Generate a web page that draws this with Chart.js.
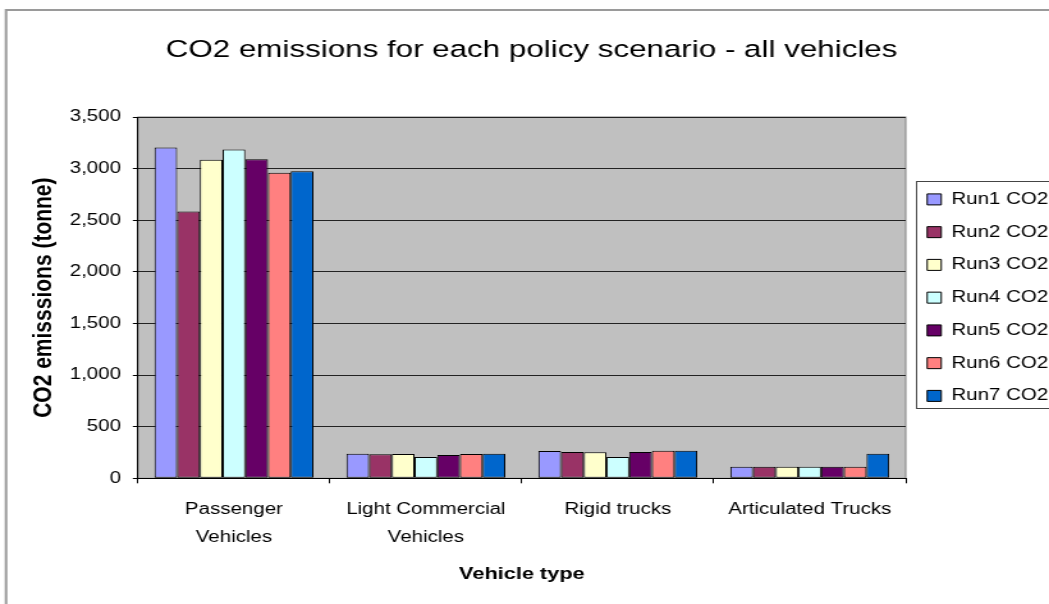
<!DOCTYPE html>
<html>
<head>
<meta charset="utf-8">
<title>CO2 emissions for each policy scenario - all vehicles</title>
<script src="https://cdn.jsdelivr.net/npm/chart.js@4/dist/chart.umd.min.js"></script>
<style>
  html, body { margin: 0; padding: 0; background: #ffffff; overflow: hidden; }
  /* The chart is laid out at 820px and widened to the full 1049px page. */
  #wrap {
    position: absolute; left: 0; top: 0;
    width: 820px; height: 604px;
    transform-origin: 0 0;
    transform: scaleX(1.27927);
  }
</style>
</head>
<body>
<div id="wrap"><canvas id="chart" width="820" height="604"></canvas></div>
<script>
// Vehicle categories (multi-line labels)
const categories = [
  ['Passenger', 'Vehicles'],
  ['Light Commercial', 'Vehicles'],
  'Rigid trucks',
  'Articulated Trucks'
];

// Series names
const seriesNames = ['Run1 CO2', 'Run2 CO2', 'Run3 CO2', 'Run4 CO2', 'Run5 CO2', 'Run6 CO2', 'Run7 CO2'];

// CO2 emissions (tonne) per run, in category order
const run1 = [3205, 239, 265, 113];
const run2 = [2585, 233, 255, 113];
const run3 = [3085, 236, 252, 113];
const run4 = [3185, 207, 207, 113];
const run5 = [3090, 226, 255, 113];
const run6 = [2960, 236, 268, 113];
const run7 = [2975, 239, 268, 239];

// Y axis tick values and their labels
const yTickValues = [0, 500, 1000, 1500, 2000, 2500, 3000, 3500];
const yTickLabels = ['0', '500', '1,000', '1,500', '2,000', '2,500', '3,000', '3,500'];

const seriesColors = ['#9999FF', '#993366', '#FFFFCC', '#CCFFFF', '#660066', '#FF8080', '#0066CC'];
const seriesValues = [run1, run2, run3, run4, run5, run6, run7];

const FONT = "'Liberation Sans', Arial, Helvetica, sans-serif";
Chart.defaults.font.family = FONT;
Chart.defaults.color = '#000000';

// White page, outer frame and grey plot area
const frame = {
  id: 'frame',
  beforeDraw(chart) {
    const { ctx, chartArea: a } = chart;
    ctx.save();
    ctx.fillStyle = '#ffffff';
    ctx.fillRect(0, 0, chart.width, chart.height);
    ctx.strokeStyle = '#9a9a9a';
    ctx.lineWidth = 2;
    ctx.strokeRect(4.7, 10, chart.width + 20, chart.height + 20);
    ctx.fillStyle = '#C0C0C0';
    ctx.fillRect(a.left, a.top, a.right - a.left, a.bottom - a.top);
    ctx.strokeStyle = '#808080';
    ctx.lineWidth = 1;
    ctx.strokeRect(a.left, a.top, a.right - a.left, a.bottom - a.top);
    ctx.restore();
  }
};

// Border around the legend entries
const legendBorder = {
  id: 'legendBorder',
  afterDraw(chart) {
    const lg = chart.legend;
    if (!lg || !lg.legendHitBoxes || !lg.legendHitBoxes.length) return;
    const hb = lg.legendHitBoxes;
    const first = hb[0], last = hb[hb.length - 1];
    const top = first.top + first.height / 2 - 18.5;
    const bottom = last.top + last.height / 2 + 12;
    const left = first.left - 8.3;
    const { ctx } = chart;
    ctx.save();
    ctx.strokeStyle = '#444444';
    ctx.lineWidth = 1;
    ctx.strokeRect(Math.round(left) + 0.5, Math.round(top) + 0.5, chart.width + 10, Math.round(bottom - top));
    ctx.restore();
  }
};

new Chart(document.getElementById('chart'), {
  type: 'bar',
  data: {
    labels: categories,
    datasets: seriesNames.map((name, i) => ({
      label: name,
      data: seriesValues[i],
      backgroundColor: seriesColors[i],
      borderColor: '#000000',
      borderWidth: 1,
      borderSkipped: false,
      categoryPercentage: 0.828,
      barPercentage: 1.0
    }))
  },
  options: {
    responsive: false,
    animation: false,
    layout: { padding: { left: 11, right: 0, top: 0, bottom: 6.5 } },
    plugins: {
      title: {
        display: true,
        text: 'CO2 emissions for each policy scenario - all vehicles',
        color: '#000000',
        font: { family: FONT, size: 24.5, weight: 'normal' },
        padding: { top: 35.3, bottom: 52.3 }
      },
      legend: {
        position: 'right',
        align: 'center',
        fullSize: false,
        maxWidth: 112,
        labels: {
          color: '#000000',
          font: { family: FONT, size: 16 },
          boxWidth: 11,
          boxHeight: 11,
          padding: 16.75
        }
      },
      tooltip: { enabled: false }
    },
    scales: {
      x: {
        offset: true,
        grid: {
          display: true,
          drawOnChartArea: false,
          drawTicks: true,
          tickLength: 5,
          tickColor: '#000000',
          offset: true
        },
        border: { display: true, color: '#000000', width: 1 },
        ticks: {
          color: '#000000',
          font: { family: FONT, size: 16, lineHeight: 1.75 },
          padding: 12,
          maxRotation: 0,
          autoSkip: false
        },
        title: {
          display: true,
          text: 'Vehicle type',
          color: '#000000',
          font: { family: FONT, size: 17, weight: 'bold' },
          padding: { top: 0.8, bottom: 13 }
        }
      },
      y: {
        min: 0,
        max: 3500,
        afterBuildTicks(scale) {
          scale.ticks = yTickValues.map(v => ({ value: v }));
        },
        grid: {
          color: '#222222',
          lineWidth: 1,
          drawTicks: true,
          tickLength: 4,
          tickColor: '#000000'
        },
        border: { display: true, color: '#000000', width: 1 },
        ticks: {
          color: '#000000',
          font: { family: FONT, size: 16 },
          padding: 9.3,
          callback(value) {
            const i = yTickValues.indexOf(value);
            return i >= 0 ? yTickLabels[i] : '';
          }
        },
        title: {
          display: true,
          text: 'CO2 emisssions (tonne)',
          color: '#000000',
          font: { family: FONT, size: 21, weight: 'bold', lineHeight: 1 },
          padding: { top: 13.2, bottom: 0 }
        }
      }
    }
  },
  plugins: [frame, legendBorder]
});
</script>
</body>
</html>
